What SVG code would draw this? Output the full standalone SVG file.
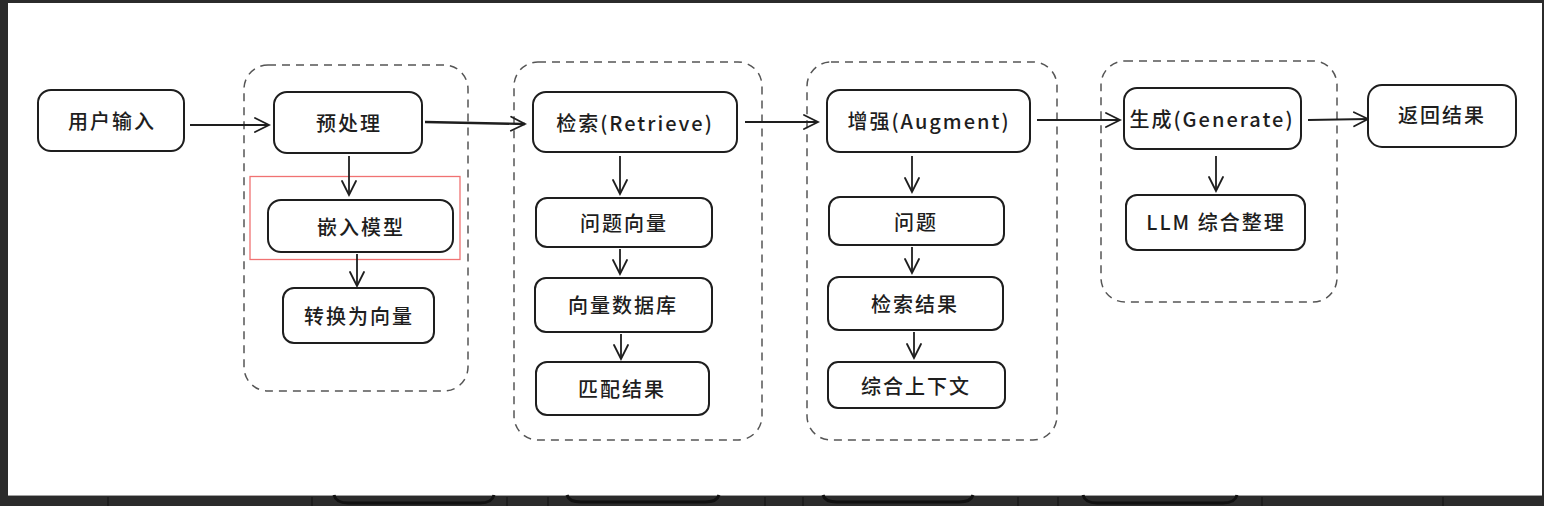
<svg xmlns="http://www.w3.org/2000/svg" width="1544" height="506" viewBox="0 0 1544 506">
<defs>
<style>
.node rect{fill:#ffffff;stroke:#1e1e1e;stroke-width:2}
.node text{font-family:"Noto Sans CJK SC","Noto Sans",sans-serif;font-size:20px;font-weight:500;fill:#1e1e1e;text-anchor:middle;dominant-baseline:central;letter-spacing:2px}
.grp{fill:none;stroke:#555555;stroke-width:1.5;stroke-dasharray:8 6}
.conn line{stroke:#1e1e1e;stroke-width:1.8;fill:none}
.band{fill:#2b2b2b}
.ghost{fill:none;stroke:#111111;stroke-width:3}
.sep{stroke:#1a1a1a;stroke-width:1.5}
</style>
<marker id="ah" viewBox="0 0 20 20" refX="18" refY="10" markerWidth="20" markerHeight="20" markerUnits="userSpaceOnUse" orient="auto">
<polyline points="4,3 18,10 4,17" fill="none" stroke="#1e1e1e" stroke-width="1.8" stroke-linecap="round"/>
</marker>
</defs>

<!-- screenshot frame -->
<rect x="0" y="0" width="1544" height="506" class="band"/>
<rect x="8" y="3" width="1534" height="492" fill="#ffffff"/>
<line x1="8" y1="495.5" x2="1542" y2="495.5" stroke="#a0a0a0" stroke-width="1"/>
<g id="frame-bottom">
<line class="sep" x1="108" y1="497" x2="108" y2="506"/>
<line class="sep" x1="312" y1="497" x2="312" y2="506"/>
<line class="sep" x1="507" y1="497" x2="507" y2="506"/>
<line class="sep" x1="548" y1="497" x2="548" y2="506"/>
<line class="sep" x1="765" y1="497" x2="765" y2="506"/>
<line class="sep" x1="803" y1="497" x2="803" y2="506"/>
<line class="sep" x1="1018" y1="497" x2="1018" y2="506"/>
<line class="sep" x1="1058" y1="497" x2="1058" y2="506"/>
<line class="sep" x1="1262" y1="497" x2="1262" y2="506"/>
<line class="sep" x1="1443" y1="497" x2="1443" y2="506"/>
<path class="ghost" d="M334,495 q2,8 14,8 h132 q12,0 14,-8"/>
<path class="ghost" d="M567,495 q2,7 14,7 h124 q12,0 14,-7"/>
<path class="ghost" d="M823,495 q2,7 14,7 h122 q12,0 14,-7"/>
<path class="ghost" d="M1083,495 q2,8 14,8 h126 q12,0 14,-8"/>
</g>

<!-- groups -->
<g id="group-preprocess"><rect class="grp" x="244" y="65" width="224" height="326" rx="24"/></g>
<g id="group-retrieve"><rect class="grp" x="514" y="62" width="248" height="378" rx="24"/></g>
<g id="group-augment"><rect class="grp" x="807" y="62" width="250" height="378" rx="24"/></g>
<g id="group-generate"><rect class="grp" x="1101" y="61" width="236" height="241" rx="24"/></g>

<!-- highlight -->
<g id="highlight"><rect x="250" y="176.5" width="210" height="83" fill="none" stroke="#f07272" stroke-width="1.3"/></g>

<!-- connectors -->
<g class="conn" id="connectors">
<line x1="190" y1="125" x2="269" y2="125" marker-end="url(#ah)"/>
<line x1="425" y1="122" x2="525" y2="124" marker-end="url(#ah)" style="stroke-width:2.4"/>
<line x1="745" y1="122" x2="818" y2="122" marker-end="url(#ah)"/>
<line x1="1037" y1="120" x2="1120" y2="120" marker-end="url(#ah)"/>
<line x1="1308" y1="120" x2="1368" y2="119" marker-end="url(#ah)"/>
<line x1="349" y1="156" x2="349" y2="195" marker-end="url(#ah)"/>
<line x1="357" y1="254" x2="357" y2="286" marker-end="url(#ah)"/>
<line x1="620" y1="156" x2="620" y2="194" marker-end="url(#ah)"/>
<line x1="620" y1="249" x2="620" y2="274" marker-end="url(#ah)"/>
<line x1="621" y1="334" x2="621" y2="359" marker-end="url(#ah)"/>
<line x1="912" y1="156" x2="912" y2="192" marker-end="url(#ah)"/>
<line x1="912" y1="247" x2="912" y2="273" marker-end="url(#ah)"/>
<line x1="914" y1="332" x2="914" y2="358" marker-end="url(#ah)"/>
<line x1="1216" y1="156" x2="1216" y2="191" marker-end="url(#ah)"/>
</g>

<!-- nodes -->
<g class="node" id="n-input"><rect x="38" y="90" width="146" height="61" rx="13"/><text x="112" y="120">用户输入</text></g>
<g class="node" id="n-pre"><rect x="274" y="92" width="148" height="61" rx="13"/><text x="349" y="122">预处理</text></g>
<g class="node" id="n-embed"><rect x="268" y="200" width="185" height="52" rx="13"/><text x="361" y="226">嵌入模型</text></g>
<g class="node" id="n-tovec"><rect x="283" y="288" width="151" height="55" rx="11"/><text x="359" y="315">转换为向量</text></g>

<g class="node" id="n-retrieve"><rect x="533" y="92" width="204" height="60" rx="13"/><text x="635" y="122">检索(Retrieve)</text></g>
<g class="node" id="n-qvec"><rect x="536" y="198" width="176" height="49" rx="11"/><text x="624" y="222">问题向量</text></g>
<g class="node" id="n-vdb"><rect x="535" y="278" width="177" height="54" rx="11"/><text x="623" y="304">向量数据库</text></g>
<g class="node" id="n-match"><rect x="536" y="362" width="173" height="53" rx="11"/><text x="622" y="388">匹配结果</text></g>

<g class="node" id="n-augment"><rect x="827" y="90" width="203" height="62" rx="13"/><text x="929" y="120">增强(Augment)</text></g>
<g class="node" id="n-q"><rect x="829" y="197" width="175" height="48" rx="11"/><text x="916" y="221">问题</text></g>
<g class="node" id="n-res"><rect x="828" y="277" width="175" height="53" rx="11"/><text x="915" y="303">检索结果</text></g>
<g class="node" id="n-ctx"><rect x="828" y="362" width="177" height="46" rx="10"/><text x="916" y="385">综合上下文</text></g>

<g class="node" id="n-gen"><rect x="1124" y="88" width="177" height="61" rx="13"/><text x="1212" y="118">生成(Generate)</text></g>
<g class="node" id="n-llm"><rect x="1126" y="195" width="179" height="55" rx="11"/><text x="1216" y="221">LLM 综合整理</text></g>

<g class="node" id="n-return"><rect x="1368" y="85" width="148" height="62" rx="14"/><text x="1442" y="114">返回结果</text></g>
</svg>
